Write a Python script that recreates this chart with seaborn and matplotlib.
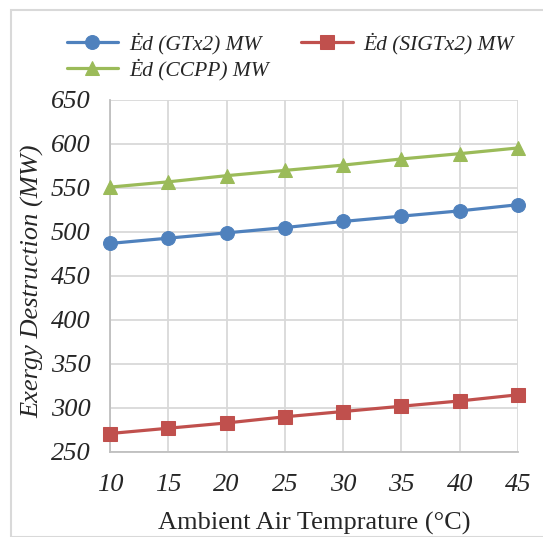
import numpy as np
import pandas as pd
import seaborn as sns
import matplotlib.pyplot as plt
from matplotlib.patches import Rectangle

temps = [10, 15, 20, 25, 30, 35, 40, 45]
ed_gt = [487, 493, 499, 505, 512, 518, 524, 531]
ed_sigt = [271, 277, 283, 290, 296, 302, 308, 315]
ed_ccpp = [551, 557, 564, 570, 576, 583, 589, 595.5]

labels = ['Ėd (GTx2) MW', 'Ėd (SIGTx2) MW', 'Ėd (CCPP) MW']
colors = ['#4F81BD', '#C0504D', '#9BBB59']
markers = ['o', 's', '^']
yticks = [250, 300, 350, 400, 450, 500, 550, 600, 650]

sns.set_style('white')
plt.rcParams['font.family'] = ['Liberation Serif', 'DejaVu Serif']

fig = plt.figure(figsize=(5.43, 5.37), dpi=100)
ax = fig.add_axes([0.2026, 0.1583, 0.7514, 0.6555])

# chart area frame
fig.patches.append(Rectangle((11/543, 0), 1.0, 1 - 10/537, transform=fig.transFigure,
                             fill=False, edgecolor='#D9D9D9', linewidth=1.5))

series = [ed_gt, ed_sigt, ed_ccpp]
for vals, lab, col, mk in zip(series, labels, colors, markers):
    df = pd.DataFrame({'T': temps, 'Ed': vals})
    sns.lineplot(data=df, x='T', y='Ed', ax=ax, color=col, marker=mk, markersize=10,
                 markeredgecolor=col, linewidth=2.3, label=lab, clip_on=False, zorder=3)

ax.set_xlim(10, 45)
ax.set_ylim(250, 650)
ax.set_xticks(temps)
ax.set_yticks(yticks)
ax.set_xticklabels([str(t) for t in temps], fontstyle='italic', fontsize=19)
ax.set_yticklabels([str(t) for t in yticks], fontstyle='italic', fontsize=19)
ax.tick_params(axis='both', length=0)
ax.tick_params(axis='x', pad=16)
ax.tick_params(axis='y', pad=14)
ax.grid(True, color='#D9D9D9', linewidth=1.3)
ax.set_axisbelow(True)
for s in ['top', 'right']:
    ax.spines[s].set_visible(False)
for s in ['left', 'bottom']:
    ax.spines[s].set_color('#BFBFBF')
    ax.spines[s].set_linewidth(1.3)

ax.set_xlabel('Ambient Air Temprature (°C)', fontsize=19, labelpad=11)
ax.set_ylabel('Exergy Destruction (MW)', fontsize=19, fontstyle='italic')
ax.yaxis.set_label_coords(-0.162, 0.485)

h, l = ax.get_legend_handles_labels()
ax.get_legend().remove()
order = [0, 2, 1]
fig.legend([h[i] for i in order], [l[i] for i in order], loc='upper left',
           bbox_to_anchor=(0.087, 0.975), ncol=2, frameon=False,
           prop={'style': 'italic', 'size': 15.5}, handlelength=2.4, columnspacing=1.5,
           labelspacing=0.2, handletextpad=0.5)

fig.savefig('out.png', dpi=100)
